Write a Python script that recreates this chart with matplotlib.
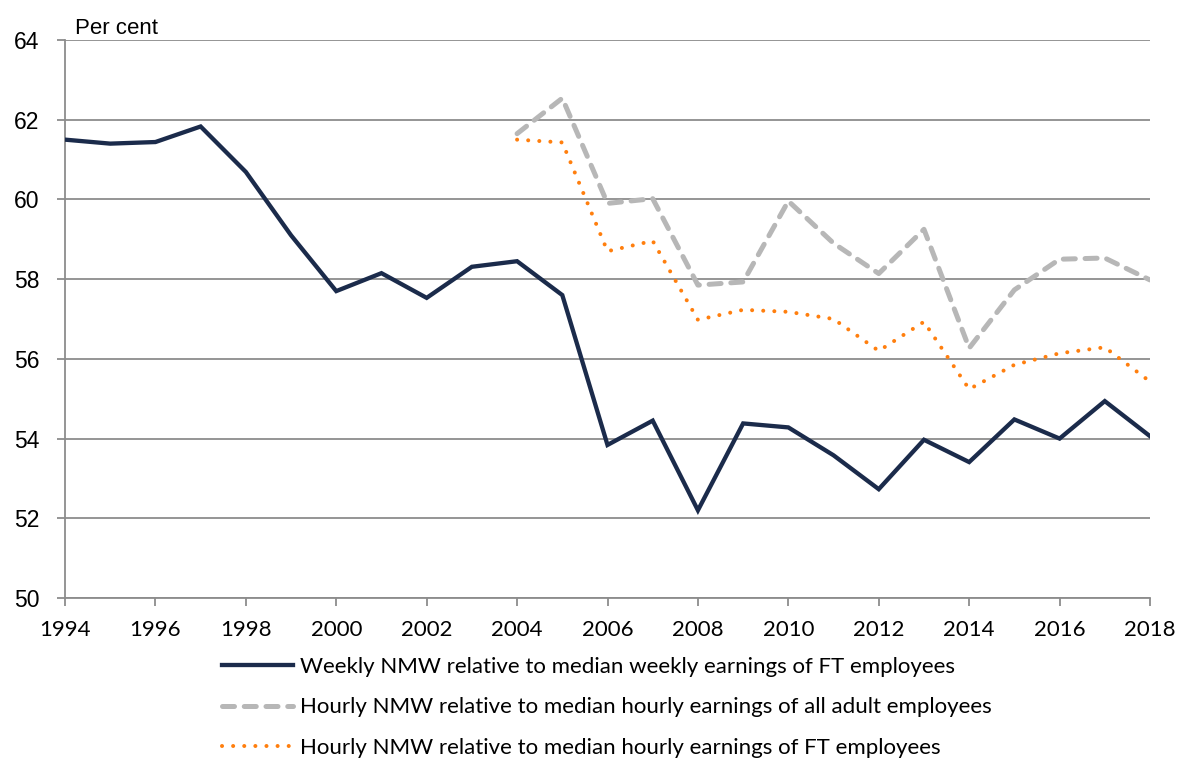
import matplotlib
matplotlib.use("Agg")
import matplotlib.pyplot as plt
from matplotlib.lines import Line2D

years = list(range(1994, 2019))
weekly_ft = [61.5, 61.4, 61.44, 61.83, 60.69, 59.1, 57.7, 58.15, 57.53, 58.31, 58.45, 57.6,
             53.84, 54.45, 52.2, 54.38, 54.28, 53.58, 52.73, 53.97, 53.41, 54.48, 54.0, 54.94, 54.06]
hourly_years = list(range(2004, 2019))
hourly_all = [61.65, 62.54, 59.9, 60.02, 57.85, 57.93, 59.96, 58.9, 58.14, 59.25, 56.27, 57.73,
              58.5, 58.53, 57.98]
hourly_ft = [61.5, 61.43, 58.7, 58.96, 56.98, 57.23, 57.18, 57.0, 56.2, 56.93, 55.24, 55.85,
             56.14, 56.29, 55.43]
labels = ["Weekly NMW relative to median weekly earnings of FT employees",
          "Hourly NMW relative to median hourly earnings of all adult employees",
          "Hourly NMW relative to median hourly earnings of FT employees"]
x_ticks = list(range(1994, 2019, 2))
y_ticks = list(range(50, 65, 2))

plt.rcParams['font.family'] = ['Lato', 'DejaVu Sans']
navy = '#1b2b4b'
grey = '#b7b7b7'
orange = '#ff7f0e'
gridc = '#8c8c8c'

fig = plt.figure(figsize=(11.8, 7.6), dpi=100)
ax = fig.add_axes([65/1180, 1-598/760, (1150-65)/1180, (598-40)/760])

grey_dash = (2.4, 1.95)
orange_dot = (0.01, 2.75)
l1, = ax.plot(years, weekly_ft, color=navy, lw=3.1, solid_joinstyle='miter', zorder=4)
l2, = ax.plot(hourly_years, hourly_all, color=grey, lw=3.6, dashes=grey_dash,
              dash_capstyle='round', zorder=3)
l3, = ax.plot(hourly_years, hourly_ft, color=orange, lw=2.9, dashes=orange_dot,
              dash_capstyle='round', zorder=3)

ax.set_xlim(1994, 2018)
ax.set_ylim(50, 64)
ax.set_xticks(x_ticks)
ax.set_yticks(y_ticks)
ax.yaxis.grid(True, color=gridc, lw=1.3)
ax.set_axisbelow(True)
for s in ['top', 'right']:
    ax.spines[s].set_visible(False)
for s in ['left', 'bottom']:
    ax.spines[s].set_color(gridc)
    ax.spines[s].set_linewidth(1.3)
ax.tick_params(axis='both', colors=gridc, length=6, width=1.3, labelcolor='black')
ax.tick_params(axis='x', pad=10, labelsize=16)
ax.tick_params(axis='y', pad=12.5, labelsize=16.5)
for t in ax.get_yticklabels():
    t.set_fontfamily(['Liberation Sans', 'DejaVu Sans'])

fig.text(75/1180, 1-28/760, "Per cent", fontsize=16, va='center', ha='left',
         family=['Liberation Sans', 'DejaVu Sans'])

handles = [Line2D([], [], color=navy, lw=3.1),
           Line2D([], [], color=grey, lw=3.6, dashes=grey_dash, dash_capstyle='round'),
           Line2D([], [], color=orange, lw=2.9, dashes=orange_dot, dash_capstyle='round')]
fig.legend(handles, labels, loc='upper left', bbox_to_anchor=(222/1180, 1-657/760),
           frameon=False, fontsize=16, handlelength=3.2, handletextpad=0.3,
           labelspacing=0.92, borderaxespad=0, borderpad=0)

fig.savefig("out.png", dpi=100)
